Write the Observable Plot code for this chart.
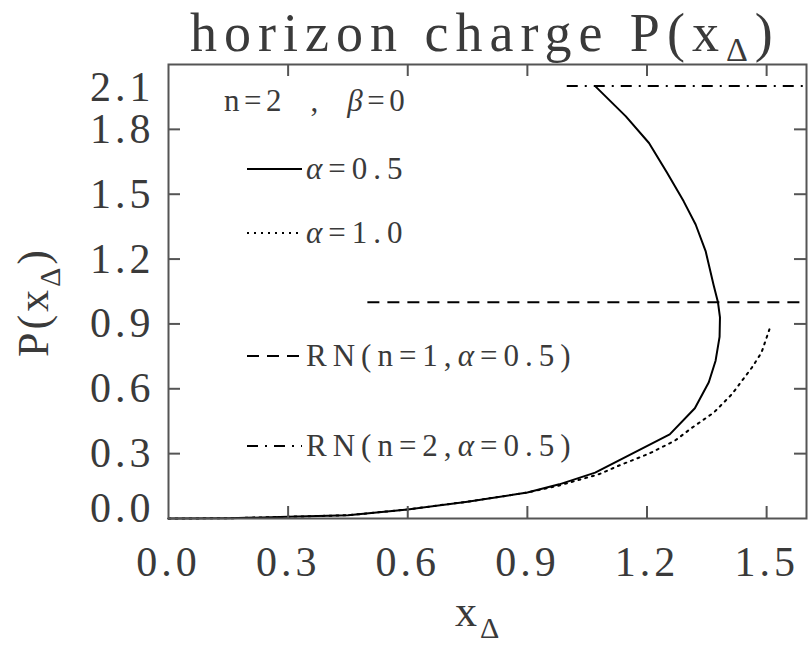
<!DOCTYPE html>
<html><head><meta charset="utf-8">
<script src="https://cdn.jsdelivr.net/npm/d3@7"></script>
<script src="https://cdn.jsdelivr.net/npm/@observablehq/plot@0.6"></script>
<style>
body{margin:0;background:#fff}
svg text{font-family:"Liberation Serif",serif}
g[aria-label$="tick label"] text{letter-spacing:4px}
</style>
</head><body><div id="chart"></div>
<script>
// ---- data ----
const alpha05X = [0, 0.15, 0.3, 0.45, 0.6, 0.75, 0.9, 0.98, 1.07, 1.257, 1.32, 1.355, 1.372, 1.382, 1.383, 1.378, 1.367, 1.347, 1.322, 1.292, 1.25, 1.205, 1.147, 1.07];
const alpha05P = [0, 0.001, 0.008, 0.015, 0.042, 0.078, 0.12, 0.158, 0.212, 0.389, 0.51, 0.63, 0.73, 0.84, 0.93, 1.0, 1.08, 1.237, 1.36, 1.467, 1.6, 1.737, 1.86, 2.0];
const alpha10X = [0, 0.15, 0.3, 0.45, 0.6, 0.75, 0.9, 0.98, 1.08, 1.13, 1.205, 1.27, 1.313, 1.3675, 1.413, 1.463, 1.487, 1.507];
const alpha10P = [0, 0.001, 0.008, 0.015, 0.042, 0.078, 0.12, 0.153, 0.205, 0.245, 0.3, 0.36, 0.42, 0.49, 0.575, 0.698, 0.767, 0.875];
const rnNames = ["RN(n=1,α=0.5)", "RN(n=2,α=0.5)"];
const rnP = [1.0, 2.0];
const rnXStart = [0.5, 1.0];
const xTicks = [0.0, 0.3, 0.6, 0.9, 1.2, 1.5];
const yTicks = [0.0, 0.3, 0.6, 0.9, 1.2, 1.5, 1.8, 2.1];
const xDomain = [0, 1.6];
const yDomain = [0, 2.1];

// ---- layout / style ----
const W = 811, H = 645, mL = 168, mR = 5, mT = 64, mB = 127;
const fw = W - mL - mR, fh = H - mT - mB;
const TL = 12; // inward tick length
const axisColor = "#555", textColor = "#3a3a3a";
const rnDash = ["12,8", "11,7,2,7"];

const solid = alpha05X.map((x, i) => ({x, P: alpha05P[i]}));
const dotted = alpha10X.map((x, i) => ({x, P: alpha10P[i]}));
const rn = rnNames.map((name, i) => ({name, P: rnP[i], x1: rnXStart[i], x2: xDomain[1], dash: rnDash[i]}));
const fmt = d3.format(".1f");
const axisText = {tickSize: 0, tickFormat: fmt, fontSize: 42, fill: textColor, label: null};

const plot = Plot.plot({
  width: W, height: H,
  marginLeft: mL, marginRight: mR, marginTop: mT, marginBottom: mB,
  x: {domain: xDomain},
  y: {domain: yDomain},
  style: {background: "white", overflow: "visible", fontFamily: "Liberation Serif"},
  marks: [
    Plot.ruleY([rn[0]], {y: "P", x1: "x1", x2: "x2", stroke: "black", strokeWidth: 2, strokeDasharray: rn[0].dash}),
    Plot.ruleY([rn[1]], {y: "P", x1: "x1", x2: "x2", stroke: "black", strokeWidth: 2, strokeDasharray: rn[1].dash}),
    Plot.line(dotted, {x: "x", y: "P", stroke: "black", strokeWidth: 2, strokeDasharray: "2,5"}),
    Plot.line(solid, {x: "x", y: "P", stroke: "black", strokeWidth: 2}),
    Plot.frame({stroke: axisColor, strokeWidth: 2}),
    Plot.tickX(xTicks.slice(1), {x: d => d, insetTop: fh - TL, stroke: axisColor, strokeWidth: 2}),
    Plot.tickX(xTicks.slice(1), {x: d => d, insetBottom: fh - TL, stroke: axisColor, strokeWidth: 2}),
    Plot.tickY(yTicks.slice(1, -1), {y: d => d, insetRight: fw - TL, stroke: axisColor, strokeWidth: 2}),
    Plot.tickY(yTicks.slice(1, -1), {y: d => d, insetLeft: fw - TL, stroke: axisColor, strokeWidth: 2}),
    Plot.axisX(xTicks, {...axisText, tickPadding: 28}),
    Plot.axisY(yTicks.slice(1, -1), {...axisText, tickPadding: 14}),
    Plot.axisY(yTicks.slice(0, 1), {...axisText, tickPadding: 14, dy: -10}),
    Plot.axisY(yTicks.slice(-1), {...axisText, tickPadding: 14, dy: 23})
  ]
});
document.getElementById("chart").appendChild(plot);

// ---- title, axis labels, legend ----
const svg = d3.select(plot);
const g = svg.append("g").attr("fill", textColor);

function subText(sel, main, sub, tail, fs, subFs, shift) {
  sel.append("tspan").text(main);
  sel.append("tspan").attr("font-size", subFs).attr("dy", shift).text(sub);
  if (tail) sel.append("tspan").attr("font-size", fs).attr("dy", -shift).text(tail);
}

const title = g.append("text").attr("x", 190).attr("y", 51)
  .attr("text-anchor", "start").attr("font-size", 54).style("letter-spacing", "7px");
subText(title, "horizon charge P(x", "Δ", ")", 54, 34, 10);

const xl = g.append("text").attr("x", 455).attr("y", 626).attr("text-anchor", "start")
  .attr("font-size", 44).style("letter-spacing", "3px");
subText(xl, "x", "Δ", null, 44, 30, 12);

const yl = g.append("text").attr("transform", "translate(48,302) rotate(-90)")
  .attr("text-anchor", "middle").attr("font-size", 44).style("letter-spacing", "3px");
subText(yl, "P(x", "Δ", ")", 44, 30, 12);

const lg = g.append("g").attr("font-size", 31).attr("text-anchor", "start")
  .style("letter-spacing", "6px").style("white-space", "pre");
const head = lg.append("text").attr("x", 224).attr("y", 111).style("letter-spacing", "4.5px");
head.append("tspan").text("n=2  ,  ");
head.append("tspan").attr("font-style", "italic").text("β");
head.append("tspan").text("=0");

const legendRows = [
  {label: ["α", "=0.5"], dash: null, y: 169},
  {label: ["α", "=1.0"], dash: "2,5", y: 233},
  {label: ["RN(n=1,", "α", "=0.5)"], dash: rnDash[0], y: 356},
  {label: ["RN(n=2,", "α", "=0.5)"], dash: rnDash[1], y: 446}
];
legendRows.forEach(r => {
  lg.append("line").attr("x1", 247).attr("x2", 302).attr("y1", r.y).attr("y2", r.y)
    .attr("stroke", "black").attr("stroke-width", 2).attr("stroke-dasharray", r.dash);
  const t = lg.append("text").attr("x", 306).attr("y", r.y + 10);
  r.label.forEach(s => t.append("tspan").attr("font-style", s === "α" ? "italic" : null).text(s));
});
</script>
</body></html>
